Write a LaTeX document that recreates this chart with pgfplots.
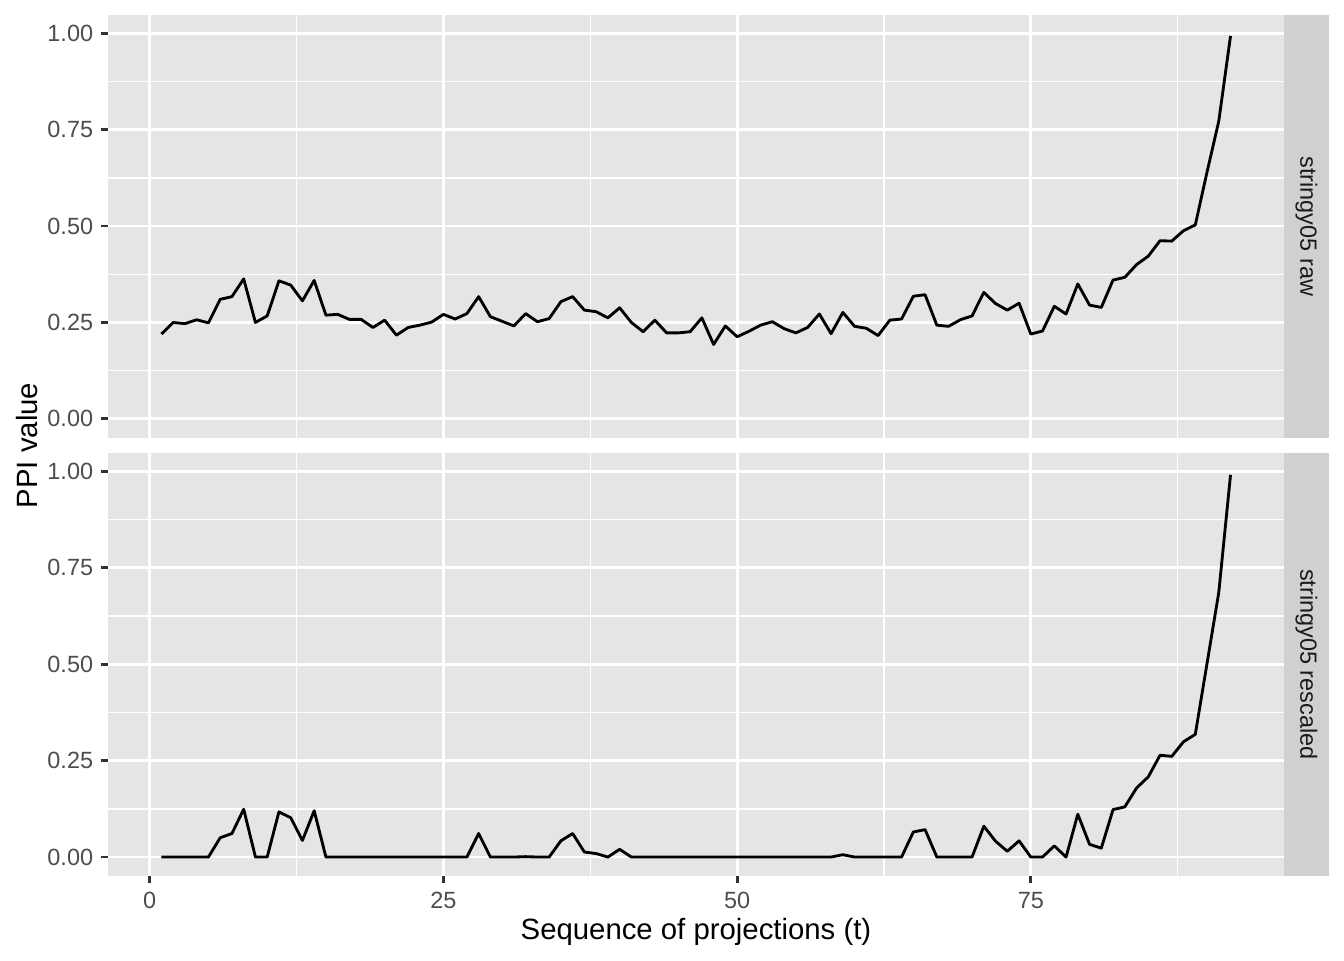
\documentclass[border=0pt]{standalone}
\usepackage{pgfplots}
\usepackage{pgfplotstable}
\pgfplotsset{compat=1.18}
\usepackage{fontspec}
\setmainfont{Liberation Sans}
\definecolor{panelgray}{HTML}{E5E5E5}
\definecolor{stripgray}{HTML}{D0D0D0}
\definecolor{tickgray}{HTML}{4D4D4D}
\definecolor{tickmark}{HTML}{333333}
\definecolor{striptext}{HTML}{1A1A1A}

\pgfplotstableread{
t v
1 0.220
2 0.250
3 0.247
4 0.257
5 0.249
6 0.310
7 0.317
8 0.363
9 0.250
10 0.267
11 0.358
12 0.347
13 0.306
14 0.359
15 0.269
16 0.271
17 0.258
18 0.258
19 0.237
20 0.256
21 0.217
22 0.237
23 0.243
24 0.251
25 0.271
26 0.259
27 0.273
28 0.317
29 0.265
30 0.253
31 0.241
32 0.273
33 0.252
34 0.260
35 0.304
36 0.317
37 0.282
38 0.278
39 0.262
40 0.288
41 0.250
42 0.226
43 0.256
44 0.223
45 0.223
46 0.226
47 0.262
48 0.193
49 0.241
50 0.213
51 0.227
52 0.243
53 0.252
54 0.234
55 0.223
56 0.237
57 0.272
58 0.221
59 0.276
60 0.240
61 0.235
62 0.216
63 0.256
64 0.259
65 0.318
66 0.322
67 0.243
68 0.240
69 0.257
70 0.267
71 0.328
72 0.299
73 0.282
74 0.300
75 0.220
76 0.228
77 0.292
78 0.272
79 0.350
80 0.295
81 0.289
82 0.360
83 0.367
84 0.400
85 0.422
86 0.462
87 0.461
88 0.488
89 0.503
90 0.640
91 0.772
92 0.993
}\rawtable

\pgfplotstableread{
t v
1 0
2 0
3 0
4 0
5 0
6 0.050
7 0.061
8 0.124
9 0
10 0
11 0.117
12 0.102
13 0.043
14 0.120
15 0
16 0
17 0
18 0
19 0
20 0
21 0
22 0
23 0
24 0
25 0
26 0
27 0
28 0.061
29 0
30 0
31 0
32 0.001
33 0.000
34 0
35 0.042
36 0.061
37 0.013
38 0.009
39 0
40 0.020
41 0
42 0
43 0
44 0
45 0
46 0
47 0
48 0
49 0
50 0
51 0
52 0
53 0
54 0
55 0
56 0
57 0
58 0
59 0.006
60 0
61 0
62 0
63 0
64 0
65 0.065
66 0.071
67 0
68 0
69 0
70 0
71 0.080
72 0.041
73 0.015
74 0.042
75 0
76 0
77 0.029
78 0
79 0.111
80 0.033
81 0.023
82 0.123
83 0.130
84 0.179
85 0.208
86 0.264
87 0.261
88 0.299
89 0.318
90 0.502
91 0.686
92 0.991
}\restable

\pgfplotsset{
  facet/.style={
    scale only axis,
    width=441pt, height=158.5pt,
    anchor=south west,
    xmin=-3.55, xmax=96.55,
    ymin=-0.0485, ymax=1.0474,
    axis background/.style={fill=panelgray},
    axis line style={draw=none},
    xtick={0,25,50,75},
    minor xtick={12.5,37.5,62.5,87.5},
    ytick={0,0.25,0.5,0.75,1},
    minor ytick={0.125,0.375,0.625,0.875},
    yticklabels={0.00,0.25,0.50,0.75,1.00},
    grid=both,
    major grid style={white, line width=1.07pt},
    minor grid style={white, line width=0.53pt},
    tick align=outside,
    major tick length=2.75pt,
    minor tick length=0pt,
    xtick pos=bottom, ytick pos=left,
    tick style={color=tickmark, line width=1.07pt},
    tick label style={font=\fontsize{8.8}{10}\selectfont, text=tickgray},
    yticklabel style={xshift=0.7pt},
  },
}

\begin{document}
\begin{tikzpicture}
\path[use as bounding box] (0,0) rectangle (504pt,360pt);

\begin{axis}[facet, at={(40.5pt,195.9pt)},
  xticklabels={}, xtick style={draw=none}]
\addplot[black, line width=1.07pt, line join=round] table[x=t,y=v] {\rawtable};
\end{axis}

\begin{axis}[facet, at={(40.5pt,31.6pt)},
  xticklabels={0,25,50,75}]
\addplot[black, line width=1.07pt, line join=round] table[x=t,y=v] {\restable};
\end{axis}

\fill[stripgray] (481.5pt,195.9pt) rectangle (498.3pt,354.4pt);
\fill[stripgray] (481.5pt,31.6pt) rectangle (498.3pt,190.2pt);
\node[rotate=-90, text=striptext, font=\fontsize{8.8}{10}\selectfont] at (489.9pt,275.15pt) {stringy05 raw};
\node[rotate=-90, text=striptext, font=\fontsize{8.8}{10}\selectfont] at (489.9pt,110.9pt) {stringy05 rescaled};

\node[rotate=90, font=\fontsize{11}{13}\selectfont] at (10.2pt,192.9pt) {PPI value};
\node[font=\fontsize{11}{13}\selectfont] at (261pt,10.4pt) {Sequence of projections (t)};
\end{tikzpicture}
\end{document}
